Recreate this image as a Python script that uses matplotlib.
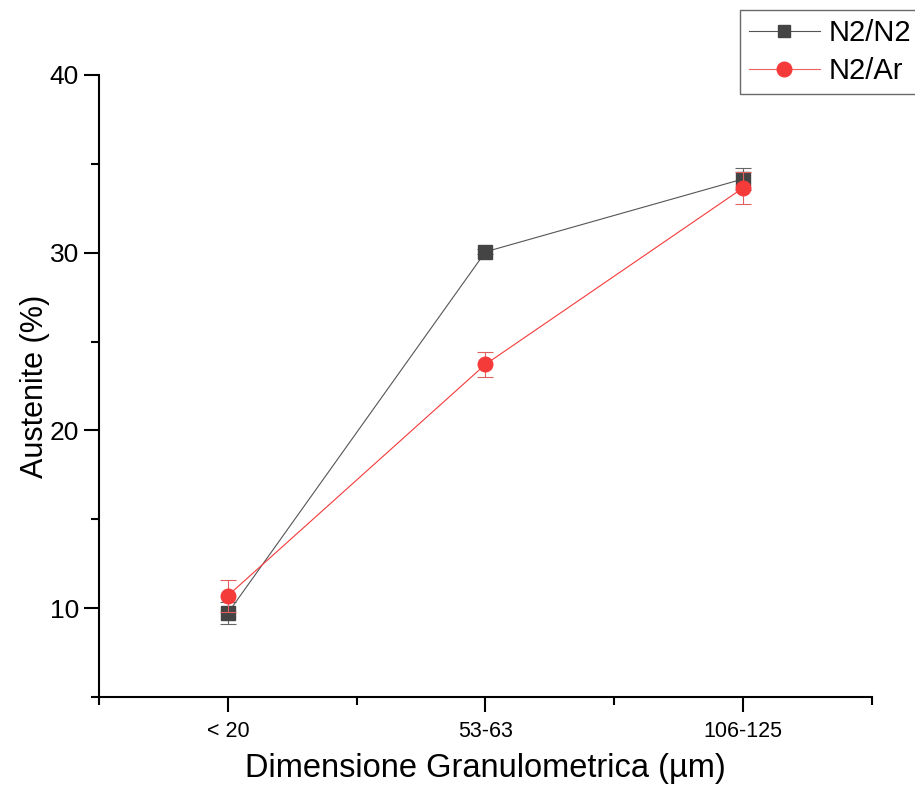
import matplotlib
matplotlib.use("Agg")
import matplotlib.pyplot as plt
from matplotlib.ticker import MultipleLocator, FixedLocator
from matplotlib.lines import Line2D
import numpy as np

categories = ["< 20", "53-63", "106-125"]
n2n2 = [9.72, 30.05, 34.15]
n2n2_err = [0.6, 0.15, 0.6]
n2ar = [10.7, 23.72, 33.65]
n2ar_err = [0.9, 0.7, 0.9]

plt.rcParams['font.family'] = ['Liberation Sans', 'DejaVu Sans']

fig = plt.figure(figsize=(9.15, 7.97), dpi=100)
ax = fig.add_axes([99/915, 1-697/797, (872-99)/915, (697-75)/797])

x = np.arange(len(categories))
ax.errorbar(x, n2n2, yerr=n2n2_err, color='#555555', marker='s', ms=9.5,
            markerfacecolor='#444444', markeredgecolor='#444444',
            lw=0.8, elinewidth=0.8, capsize=6, capthick=0.8, ecolor='#666666',
            zorder=3)
ax.errorbar(x, n2ar, yerr=n2ar_err, color='#f53a3a', marker='o', ms=10.5,
            lw=0.8, elinewidth=0.8, capsize=6, capthick=0.8, ecolor='#e06060',
            zorder=4)

ax.set_xlim(-0.5, 2.5)
ax.set_ylim(5, 40)
ax.set_xticks(x)
ax.set_xticklabels(categories, fontsize=15.5)
ax.xaxis.set_minor_locator(FixedLocator([-0.5, 0.5, 1.5, 2.5]))
ax.yaxis.set_major_locator(MultipleLocator(10))
ax.yaxis.set_minor_locator(MultipleLocator(5))
ax.tick_params(axis='y', labelsize=19)
ax.tick_params(axis='x', pad=6)
ax.tick_params(which='major', length=11, width=1.5, direction='out')
ax.tick_params(which='minor', length=6, width=1.5, direction='out')
for s in ['top', 'right']:
    ax.spines[s].set_visible(False)
for s in ['left', 'bottom']:
    ax.spines[s].set_linewidth(1.5)

ax.set_xlabel('Dimensione Granulometrica (µm)', fontsize=23.5, labelpad=8)
ax.set_ylabel('Austenite (%)', fontsize=22, labelpad=0)
ax.yaxis.set_label_coords(-0.064, 0.5)

handles = [
    Line2D([], [], color='#555555', lw=0.8, marker='s', ms=9,
           markerfacecolor='#444444', markeredgecolor='#444444'),
    Line2D([], [], color='#f06060', lw=0.8, marker='o', ms=10.5,
           markerfacecolor='#f53a3a', markeredgecolor='#f53a3a'),
]
leg = ax.legend(handles, ['N2/N2', 'N2/Ar'], loc='upper left',
                bbox_to_anchor=(740/915, 1-10/797),
                bbox_transform=fig.transFigure, fontsize=21, frameon=True,
                fancybox=False, edgecolor='#444444', handlelength=2.45,
                borderpad=0.3, labelspacing=0.35, handletextpad=0.3,
                borderaxespad=0)
leg.get_frame().set_linewidth(1.0)

fig.savefig('out.png', dpi=100)
